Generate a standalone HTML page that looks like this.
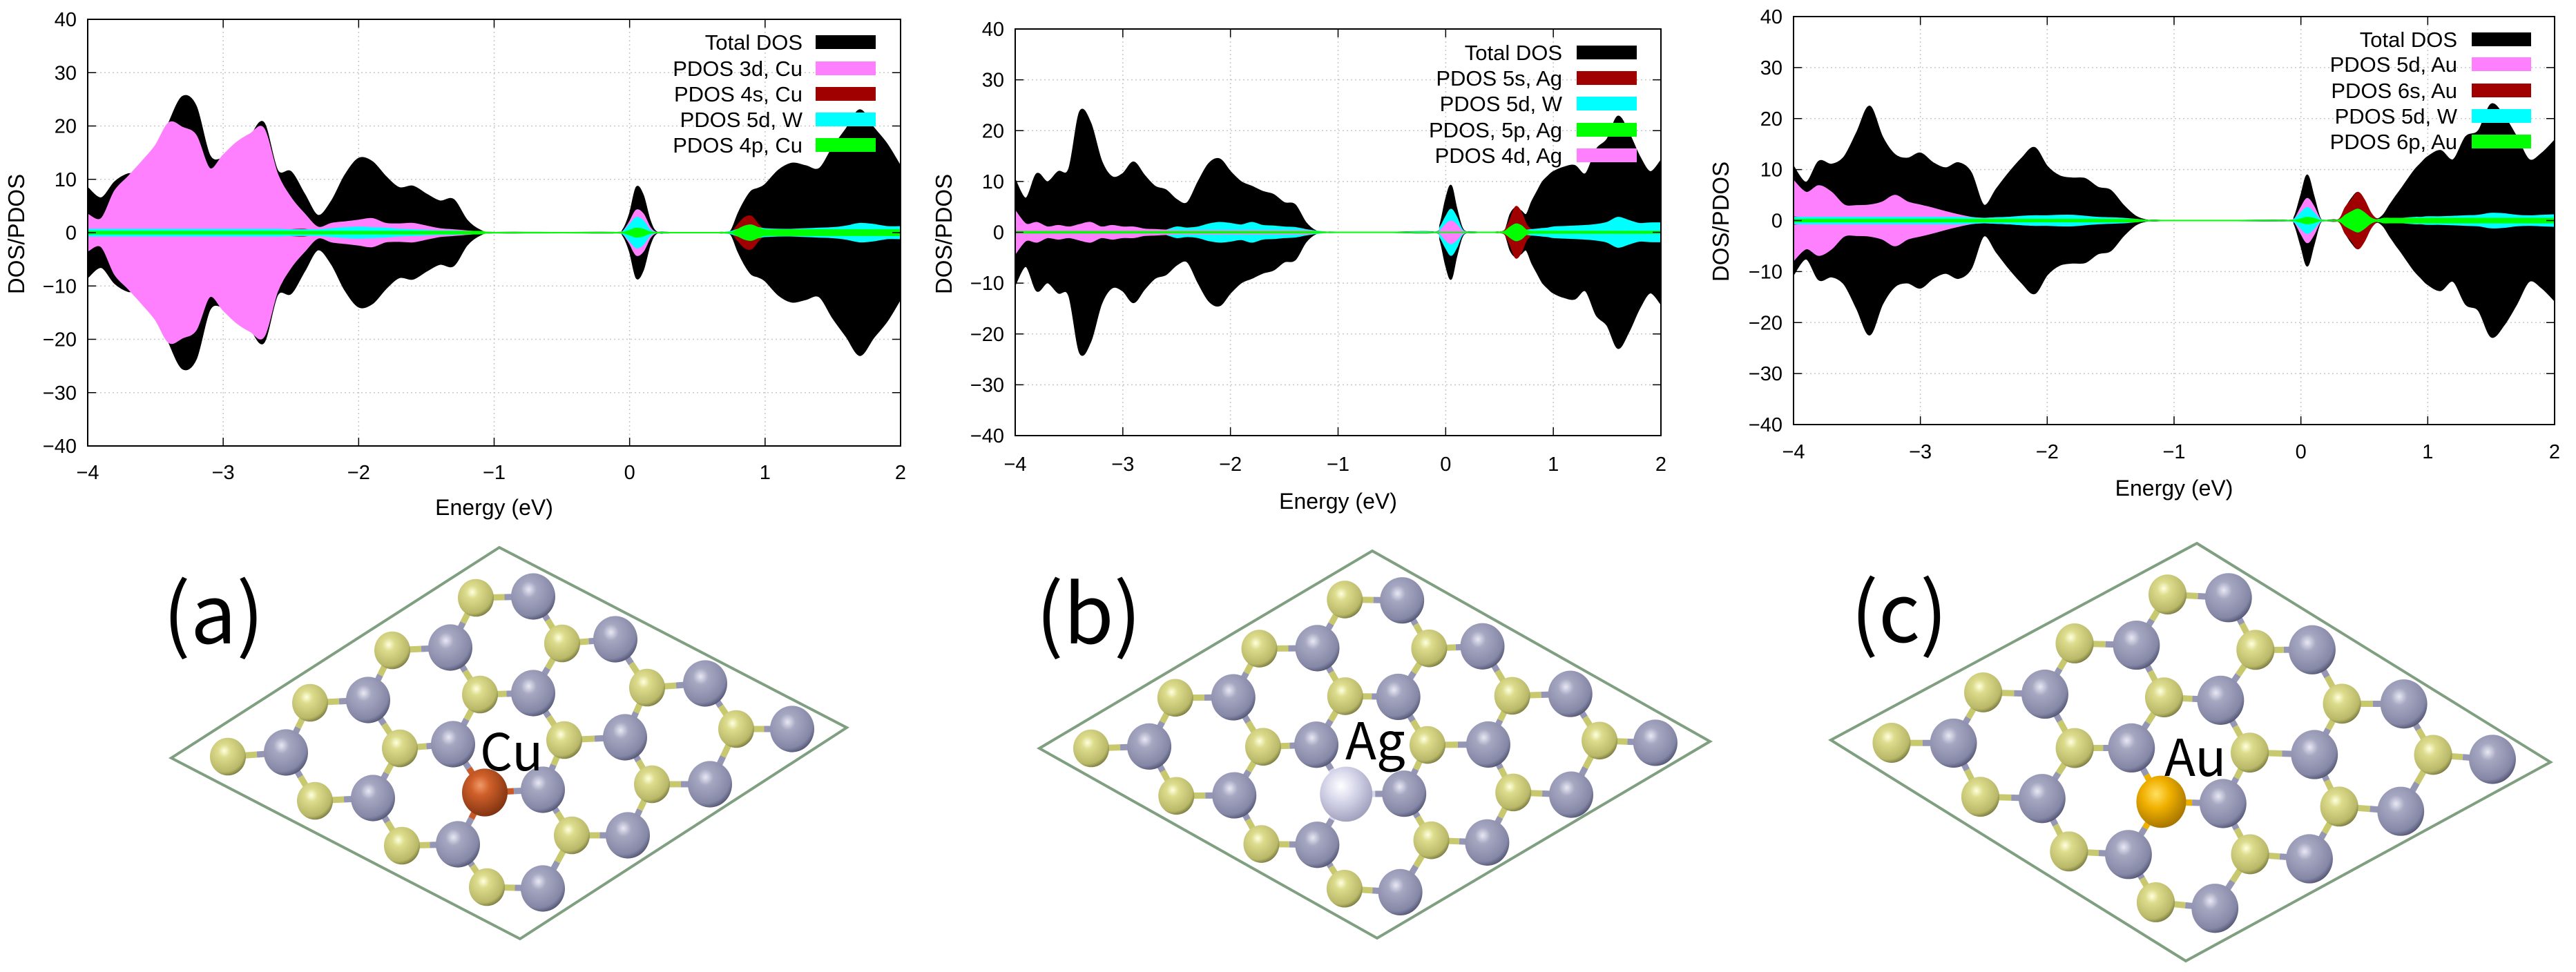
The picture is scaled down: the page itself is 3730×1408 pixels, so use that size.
<!DOCTYPE html>
<html><head><meta charset="utf-8">
<style>
html,body{margin:0;padding:0;background:#fff;}
svg{display:block;font-family:"Liberation Sans",sans-serif;}
</style></head>
<body>
<svg id="fig" width="3730" height="1408" viewBox="0 0 3730 1408" xmlns="http://www.w3.org/2000/svg">
<defs>
<radialGradient id="gW" cx="0.4" cy="0.35" r="0.7"><stop offset="0" stop-color="#e8e8f4"/><stop offset="0.25" stop-color="#a6a8c2"/><stop offset="0.8" stop-color="#8587a6"/><stop offset="1" stop-color="#4a4c6a"/></radialGradient>
<radialGradient id="gS" cx="0.4" cy="0.35" r="0.7"><stop offset="0" stop-color="#ffffe0"/><stop offset="0.25" stop-color="#dcdc8c"/><stop offset="0.8" stop-color="#b8b868"/><stop offset="1" stop-color="#6e6e3a"/></radialGradient>
<radialGradient id="gCu" cx="0.4" cy="0.35" r="0.7"><stop offset="0" stop-color="#f09a6a"/><stop offset="0.3" stop-color="#d0602a"/><stop offset="1" stop-color="#7a3010"/></radialGradient>
<radialGradient id="gAg" cx="0.4" cy="0.35" r="0.7"><stop offset="0" stop-color="#ffffff"/><stop offset="0.4" stop-color="#d8d8ec"/><stop offset="1" stop-color="#9c9cba"/></radialGradient>
<radialGradient id="gAu" cx="0.4" cy="0.35" r="0.7"><stop offset="0" stop-color="#ffe060"/><stop offset="0.4" stop-color="#f0b000"/><stop offset="1" stop-color="#a07000"/></radialGradient>
</defs>
</svg>
<script>
// ---------- DOS data ----------
const energies = [-4,-3.9,-3.8,-3.7,-3.6,-3.5,-3.4,-3.3,-3.2,-3.1,-3.0,-2.9,-2.8,-2.7,-2.6,-2.5,-2.4,-2.3,-2.2,-2.1,-2.0,-1.9,-1.8,-1.7,-1.6,-1.5,-1.4,-1.3,-1.2,-1.1,-1.0,-0.5,-0.1,-0.05,0,0.05,0.1,0.15,0.2,0.3,0.35,0.4,0.45,0.5,0.55,0.6,0.65,0.7,0.75,0.8,0.85,0.9,0.95,1.0,1.1,1.2,1.3,1.4,1.5,1.6,1.7,1.8,1.9,2.0];
const xTicks = [-4,-3,-2,-1,0,1,2];
const yTicks = [-40,-30,-20,-10,0,10,20,30,40];

const totalA = [8.4,6.5,9.5,11,11,14,20.6,25.5,23.7,14.5, 13.9,15,18,20.6,11.7,11.4,7.2,3.2,5.9,10.8, 13.9,13.3,10.5,8.4,8.7,7.2,5.9,6.2,2.3,0.4, 0,0,0,0.5,3.5,8.5,7,2.3,0.1,0, 0,0,0,0,0,0,0,0,0.4,3.5, 6,7.8,8.3,9,11.7,13,12.5,12,16,19.5, 23,19.7,16.6,12.4];
const cu3dA  = [3.4,2.6,7.8,10.5,13.3,16.3,20.6,19.7,18.2,12, 14.5,16.9,18.5,19.5,11,6.5,3.5,1,1.7,2, 2.3,2.6,1.7,1.6,1.7,1.2,0.7,0.5,0.3,0.1, 0,0,0,0.2,2,4.2,3.5,1,0,0, 0,0,0,0,0,0,0,0,0,0.3, 0.5,0.5,0.4,0.3,0.3,0.3,0.3,0.3,0.3,0.3, 0.3,0.3,0.3,0.3];
const cu4sA  = [0.1,0.1,0.1,0.1,0.1,0.1,0.1,0.1,0.1,0.1, 0.1,0.1,0.1,0.1,0.1,0.5,0.6,0.1,0.1,0.1, 0.1,0.1,0.1,0.1,0.1,0.1,0.1,0.1,0.1,0.05, 0,0,0,0,0,0,0,0,0,0, 0,0,0,0,0,0,0,0,0,1.5, 2.8,3,1.5,0.5,0.2,0.2,0.2,0.2,0.2,0.2, 0.2,0.2,0.2,0.2];
const w5dA   = [0.6,0.6,0.6,0.6,0.6,0.6,0.6,0.6,0.6,0.6, 0.6,0.6,0.6,0.6,0.6,0.5,0.5,0.5,0.7,0.9, 1.0,0.9,0.8,0.6,0.5,0.4,0.3,0.3,0.2,0.1, 0,0,0,0.2,1.5,2.8,2.2,0.5,0,0, 0,0,0,0,0,0,0,0,0.2,0.6, 0.9,1,0.9,0.7,0.6,0.6,0.7,0.8,0.9,1.2, 1.7,1.5,1.1,1.1];
const cu4pA  = [0.2,0.2,0.2,0.2,0.2,0.2,0.2,0.2,0.2,0.2, 0.2,0.2,0.2,0.2,0.2,0.2,0.2,0.2,0.2,0.2, 0.2,0.2,0.2,0.2,0.2,0.2,0.2,0.2,0.2,0.2, 0,0,0,0,0.4,0.8,0.6,0.1,0,0, 0,0,0,0,0,0,0,0,0,0.6, 1.2,1.4,0.9,0.5,0.5,0.5,0.5,0.5,0.5,0.5, 0.5,0.5,0.5,0.5];

const totalB = [10.3,6.7,11.5,9.9,11.9,12.5,23.7,21.5,14.1,10.9, 11.5,13.8,11.2,9,8.3,6.4,5.8,9.9,13.5,14.4, 11.9,9.9,9,8,7.4,5.8,5.4,1.9,0.2,0, 0,0,0,1.6,6.4,9.2,4.8,1,0,0, 0,0,0,0,0.2,3.5,4.8,4.2,3.5,6, 8,9.9,11,11.9,12.8,13.1,11.5,16.3,18.3,22.8, 19.6,15,11.9,14.1];
const ag5sB  = [0.1,0.1,0.1,0.1,0.1,0.1,0.1,0.1,0.1,0.1, 0.1,0.1,0.1,0.1,0.1,0.1,0.1,0.1,0.1,0.1, 0.1,0.1,0.1,0.1,0.1,0.1,0.1,0.1,0.1,0, 0,0,0,0,0,0,0,0,0,0, 0,0,0,0,0.4,2.5,5,4,1.5,0.5, 0.3,0.3,0.3,0.3,0.3,0.3,0.3,0.3,0.3,0.3, 0.3,0.3,0.3,0.3];
const w5dB   = [0.2,0.2,0.2,0.2,0.2,0.2,0.2,0.2,0.2,0.2, 0.2,0.2,0.2,0.2,0.4,1,0.8,1,1.6,1.9, 1.7,1.4,1.9,1.3,1.2,1,0.9,0.5,0.2,0, 0,0,0,1,3,4.5,3,0.6,0,0, 0,0,0,0,0,0.3,0.4,0.4,0.4,0.5, 0.6,0.7,0.8,1,1.1,1.2,1.3,1.5,1.9,2.9, 2.3,1.7,1.8,1.8];
const ag5pB  = [0.1,0.1,0.1,0.1,0.1,0.1,0.1,0.1,0.1,0.1, 0.1,0.1,0.1,0.1,0.1,0.1,0.1,0.1,0.1,0.1, 0.1,0.1,0.1,0.1,0.1,0.1,0.1,0.1,0.1,0, 0,0,0,0,0,0,0,0,0,0, 0,0,0,0,0.2,1,1.6,1.3,0.4,0.15, 0.15,0.15,0.15,0.15,0.15,0.15,0.15,0.15,0.15,0.15, 0.15,0.15,0.15,0.15];
const ag4dB  = [4.2,1.6,1.9,1,1.3,1,1.5,1.9,1,1.3, 1,1,0.6,0.5,0.4,0.3,0.3,0.3,0.3,0.3, 0.3,0.3,0.3,0.3,0.3,0.3,0.3,0.3,0.1,0, 0,0,0,0.3,1.5,2.2,1.5,0.3,0,0, 0,0,0,0,0.1,0.15,0.15,0.15,0.15,0.15, 0.15,0.15,0.15,0.15,0.15,0.15,0.15,0.15,0.15,0.15, 0.15,0.15,0.15,0.15];

const totalC = [10.6,7.5,11.6,11,12.5,17.3,22.4,16.4,12.9,12.2, 13.2,11.3,10.3,11.3,9.4,3,6.2,9.4,12.2,14.3, 10.6,8.7,8.3,8.2,6.5,5.9,3,0.8,0,0, 0,0,0,0.8,4.9,8.9,4.9,0.5,0,0.1, 2.4,4.3,5.5,3.9,1.4,0.3,1.1,3,4.8,6.5, 8.3,10,11.3,12.5,13.7,11.9,16.4,17.6,22.8,20.5, 16.4,11.9,13.2,15.7];
const au5dC  = [7.8,5.5,6.8,5.5,3,2.9,3,3.6,4.9,3.6, 3,2.4,1.7,1.1,0.6,0.4,0.5,0.6,0.7,0.9, 0.8,0.6,0.5,0.4,0.3,0.3,0.2,0.1,0,0, 0,0,0,0.3,2.5,4.3,2.8,0.3,0,0, 0.2,0.3,0.3,0.3,0.1,0.2,0.2,0.2,0.2,0.2, 0.2,0.2,0.2,0.2,0.2,0.2,0.2,0.2,0.2,0.2, 0.2,0.2,0.2,0.2];
const au6sC  = [0.7,0.4,0.3,0.3,0.3,0.3,0.3,0.3,0.3,0.3, 0.3,0.3,0.3,0.5,0.3,0.1,0.1,0.1,0.1,0.1, 0.1,0.1,0.1,0.1,0.1,0.1,0.1,0.1,0,0, 0,0,0,0,0,0,0,0,0,0.2, 2.5,4,5.5,4,1.5,0.2,0.1,0.1,0.1,0.1, 0.1,0.1,0.1,0.1,0.1,0.1,0.1,0.1,0.1,0.1, 0.1,0.1,0.1,0.1];
const w5dC   = [0.6,0.6,0.6,0.6,0.6,0.6,0.6,0.6,0.6,0.6, 0.6,0.6,0.6,0.6,0.5,0.4,0.5,0.6,0.8,0.9, 0.9,1,1,0.8,0.6,0.5,0.4,0.2,0,0, 0,0,0,0.3,1.5,2.5,1.6,0.2,0,0, 0,0,0,0,0,0,0,0,0.3,0.4, 0.5,0.6,0.6,0.7,0.7,0.8,0.9,1,1.4,1.3, 1,0.9,1,1.1];
const au6pC  = [0.2,0.2,0.2,0.2,0.2,0.2,0.2,0.2,0.2,0.2, 0.2,0.2,0.2,0.2,0.2,0.2,0.2,0.2,0.2,0.2, 0.2,0.2,0.2,0.2,0.2,0.2,0.2,0.2,0,0, 0,0,0,0,0.3,0.6,0.4,0,0,0.1, 1,1.7,2.2,1.5,0.5,0.1,0.4,0.4,0.4,0.4, 0.4,0.4,0.4,0.4,0.4,0.4,0.4,0.4,0.4,0.4, 0.4,0.4,0.4,0.4];

const labelsA = ["Total DOS","PDOS 3d, Cu","PDOS 4s, Cu","PDOS 5d, W","PDOS 4p, Cu"];
const labelsB = ["Total DOS","PDOS 5s, Ag","PDOS 5d, W","PDOS, 5p, Ag","PDOS 4d, Ag"];
const labelsC = ["Total DOS","PDOS 5d, Au","PDOS 6s, Au","PDOS 5d, W","PDOS 6p, Au"];

const BLACK="#000000", PINK="#ff80ff", RED="#a00000", CYAN="#00ffff", GREEN="#00ff00";

const NS="http://www.w3.org/2000/svg";
const svg=document.getElementById('fig');
function mk(tag,attrs,parent){const e=document.createElementNS(NS,tag);for(const k in attrs)e.setAttribute(k,attrs[k]);(parent||svg).appendChild(e);return e;}

function smoothPath(pts){
  let d="M"+pts[0][0].toFixed(1)+","+pts[0][1].toFixed(1);
  for(let i=0;i<pts.length-1;i++){
    const p0=pts[Math.max(0,i-1)],p1=pts[i],p2=pts[i+1],p3=pts[Math.min(pts.length-1,i+2)];
    const t=0.16;
    const c1=[p1[0]+(p2[0]-p0[0])*t,p1[1]+(p2[1]-p0[1])*t];
    const c2=[p2[0]-(p3[0]-p1[0])*t,p2[1]-(p3[1]-p1[1])*t];
    d+=" C"+c1[0].toFixed(1)+","+c1[1].toFixed(1)+" "+c2[0].toFixed(1)+","+c2[1].toFixed(1)+" "+p2[0].toFixed(1)+","+p2[1].toFixed(1);
  }
  return d;
}

function drawPanel(cfg){
  const g=mk('g',{});
  
  
  const xs=v=>cfg.L+(v-(-4))/(6)*(cfg.R-cfg.L);
  const ys=v=>cfg.B-(v-(-40))/80*(cfg.B-cfg.T);
  xTicks.forEach(t=>{ if(t>-4&&t<2){const l=mk('line',{x1:xs(t),x2:xs(t),y1:cfg.T,y2:cfg.B,stroke:'#c8c8c8','stroke-width':1.5,'stroke-dasharray':'2,4'},g);
    }});
  yTicks.forEach(t=>{ if(t>-40&&t<40){const l=mk('line',{x1:cfg.L,x2:cfg.R,y1:ys(t),y2:ys(t),stroke:'#c8c8c8','stroke-width':1.5,'stroke-dasharray':'2,4'},g);
    }});
  cfg.series.forEach(s=>{
    const up=energies.map((e,i)=>[xs(e),ys(s.vals[i])]);
    const dn=energies.map((e,i)=>[xs(e),ys(-s.vals[i])]).reverse();
    const d=smoothPath(up)+" L"+dn[0][0].toFixed(1)+","+dn[0][1].toFixed(1)+smoothPath(dn).replace(/^M[^C]*/," ")+" Z";
    const p=mk('path',{d:d,fill:s.color,stroke:s.color,'stroke-width':2},g);
    
    
  });
  const fr=mk('rect',{x:cfg.L,y:cfg.T,width:cfg.R-cfg.L,height:cfg.B-cfg.T,fill:'none',stroke:'#000','stroke-width':2},g);
  
  xTicks.forEach(t=>{
    mk('line',{x1:xs(t),x2:xs(t),y1:cfg.B,y2:cfg.B-12,stroke:'#000','stroke-width':1.5},g);
    mk('line',{x1:xs(t),x2:xs(t),y1:cfg.T,y2:cfg.T+12,stroke:'#000','stroke-width':1.5},g);
    const tx=mk('text',{x:xs(t),y:cfg.xlabY,'font-size':29,'text-anchor':'middle'},g);
    tx.textContent=(t<0?"\u2212":"")+Math.abs(t);
    
  });
  yTicks.forEach(t=>{
    mk('line',{x1:cfg.L,x2:cfg.L+12,y1:ys(t),y2:ys(t),stroke:'#000','stroke-width':1.5},g);
    mk('line',{x1:cfg.R,x2:cfg.R-12,y1:ys(t),y2:ys(t),stroke:'#000','stroke-width':1.5},g);
    const tx=mk('text',{x:cfg.L-16,y:ys(t)+10,'font-size':29,'text-anchor':'end'},g);
    tx.textContent=(t<0?"\u2212":"")+Math.abs(t);
    
  });
  const xt=mk('text',{x:(cfg.L+cfg.R)/2,y:cfg.xtitY,'font-size':32,'text-anchor':'middle'},g);
  xt.textContent="Energy (eV)";
  
  const yt=mk('text',{x:0,y:0,'font-size':33,'text-anchor':'middle',transform:`translate(${cfg.ytX},${cfg.ytY}) rotate(-90)`},g);
  yt.textContent="DOS/PDOS";
  
  cfg.legend.forEach((lg,i)=>{
    const y=cfg.legY[i];
    const tx=mk('text',{x:cfg.legTextR,y:y+11,'font-size':31,'text-anchor':'end'},g);
    tx.textContent=lg.label;
    
    const r=mk('rect',{x:cfg.legBoxL,y:y-10,width:cfg.legBoxW,height:20,fill:lg.color},g);
    
  });
}

drawPanel({name:'dos-plot-cu',L:127,R:1304,T:28,B:646,xlabY:694,xtitY:746,ytX:35,ytY:339,
  legTextR:1162,legBoxL:1181,legBoxW:87,legY:[61,99,136,173,210],
  series:[{id:'total-dos-area',vals:totalA,color:BLACK},{id:'pdos-3d-cu-area',vals:cu3dA,color:PINK},{id:'pdos-4s-cu-area',vals:cu4sA,color:RED},{id:'pdos-5d-w-area',vals:w5dA,color:CYAN},{id:'pdos-4p-cu-area',vals:cu4pA,color:GREEN}],
  legend:[{label:labelsA[0],color:BLACK},{label:labelsA[1],color:PINK},{label:labelsA[2],color:RED},{label:labelsA[3],color:CYAN},{label:labelsA[4],color:GREEN}]});
drawPanel({name:'dos-plot-ag',L:1470,R:2405,T:42,B:631,xlabY:682,xtitY:737,ytX:1378,ytY:339,
  legTextR:2262,legBoxL:2283,legBoxW:87,legY:[76,113,150,188,225],
  series:[{id:'total-dos-area',vals:totalB,color:BLACK},{id:'pdos-5s-ag-area',vals:ag5sB,color:RED},{id:'pdos-5d-w-area',vals:w5dB,color:CYAN},{id:'pdos-4d-ag-area',vals:ag4dB,color:PINK},{id:'pdos-5p-ag-area',vals:ag5pB,color:GREEN}],
  legend:[{label:labelsB[0],color:BLACK},{label:labelsB[1],color:RED},{label:labelsB[2],color:CYAN},{label:labelsB[3],color:GREEN},{label:labelsB[4],color:PINK}]});
drawPanel({name:'dos-plot-au',L:2597,R:3699,T:24,B:615,xlabY:664,xtitY:718,ytX:2503,ytY:321,
  legTextR:3558,legBoxL:3579,legBoxW:86,legY:[57,93,131,168,205],
  series:[{id:'total-dos-area',vals:totalC,color:BLACK},{id:'pdos-5d-au-area',vals:au5dC,color:PINK},{id:'pdos-6s-au-area',vals:au6sC,color:RED},{id:'pdos-5d-w-area',vals:w5dC,color:CYAN},{id:'pdos-6p-au-area',vals:au6pC,color:GREEN}],
  legend:[{label:labelsC[0],color:BLACK},{label:labelsC[1],color:PINK},{label:labelsC[2],color:RED},{label:labelsC[3],color:CYAN},{label:labelsC[4],color:GREEN}]});

// ---------- Structures ----------
const sAtoms=[[689,866],[568,942],[449,1018],[330,1096],[695,1006],[579,1084],[456,1160],[582,1225],[705,1285],[814,932],[937,996],[1066,1056],[817,1072],[944,1136],[828,1210]];
const wAtoms=[[772,864],[652,938],[533,1014],[414,1090],[891,926],[772,1004],[656,1078],[540,1156],[663,1223],[786,1287],[1021,990],[905,1068],[786,1144],[1028,1136],[909,1210],[1147,1056]];
const dopantPos=[702,1148];

function drawStructure(p){
  const g=mk('g',{});
  
  
  const P1=[330,1096];
  const tr=(pt)=>{const dx=pt[0]-P1[0],dy=pt[1]-P1[1];return [p.o[0]+dx*p.a-dy*p.b, p.o[1]+dx*p.b+dy*p.a];};
  const cell=mk('polygon',{points:p.rh.map(v=>v.join(',')).join(' '),fill:'none',stroke:'#7f9f80','stroke-width':4},g);
  
  const atoms=[];
  sAtoms.forEach(a=>atoms.push({p:tr(a),t:'S'}));
  wAtoms.forEach(a=>atoms.push({p:tr(a),t:'W'}));
  atoms.push({p:tr(dopantPos),t:'D'});
  const col={S:'#c8c86e',W:'#9496b4',D:p.dcol};
  atoms.forEach(A=>{atoms.forEach(B=>{
    if(A.t==='W'||B.t!=='W')return;
    const dx=B.p[0]-A.p[0],dy=B.p[1]-A.p[1];const d=Math.hypot(dx,dy);
    if(d<100*p.s){
      const m=[(A.p[0]+B.p[0])/2,(A.p[1]+B.p[1])/2];
      mk('line',{x1:A.p[0],y1:A.p[1],x2:m[0],y2:m[1],stroke:col[A.t],'stroke-width':9},g);
      mk('line',{x1:m[0],y1:m[1],x2:B.p[0],y2:B.p[1],stroke:'#9496b4','stroke-width':9},g);
    }
  });});
  atoms.forEach(A=>{
    const r=(A.t==='S'?26:(A.t==='W'?32:p.dr))*p.s;
    const c=mk('ellipse',{cx:A.p[0],cy:A.p[1],rx:r,ry:r*1.05,fill:A.t==='S'?'url(#gS)':(A.t==='W'?'url(#gW)':p.grad)},g);
    
    
  });
  const lb=mk('text',{x:p.lab[0],y:p.lab[1],'font-size':118,'font-family':'"Noto Sans CJK JP","DejaVu Sans",sans-serif'},g);
  lb.textContent=p.label;
  
  const el=mk('text',{x:p.el[0],y:p.el[1],'font-size':74,'font-family':'"Noto Sans CJK JP","DejaVu Sans",sans-serif'},g);
  el.textContent=p.elname;
  
}
drawStructure({name:'structure-cu',o:[330,1096],a:1,b:0,s:1,rh:[[723,793],[1226,1054],[753,1360],[248,1098]],dcol:'#c85a28',grad:'url(#gCu)',dr:33,label:'(a)',lab:[236,932],elname:'Cu',el:[695,1116]});
drawStructure({name:'structure-ag',o:[1580,1084],a:0.998,b:0.039,s:1,rh:[[1987,798],[2476,1074],[1994,1359],[1505,1084]],dcol:'#d8d8ec',grad:'url(#gAg)',dr:38,label:'(b)',lab:[1500,932],elname:'Ag',el:[1948,1100]});
drawStructure({name:'structure-au',o:[2739,1076],a:1.0609,b:0.0813,s:1.06,rh:[[3181,787],[3693,1104],[3165,1392],[2651,1072]],dcol:'#f0b000',grad:'url(#gAu)',dr:34,label:'(c)',lab:[2680,930],elname:'Au',el:[3134,1124]});
</script>
</body></html>
